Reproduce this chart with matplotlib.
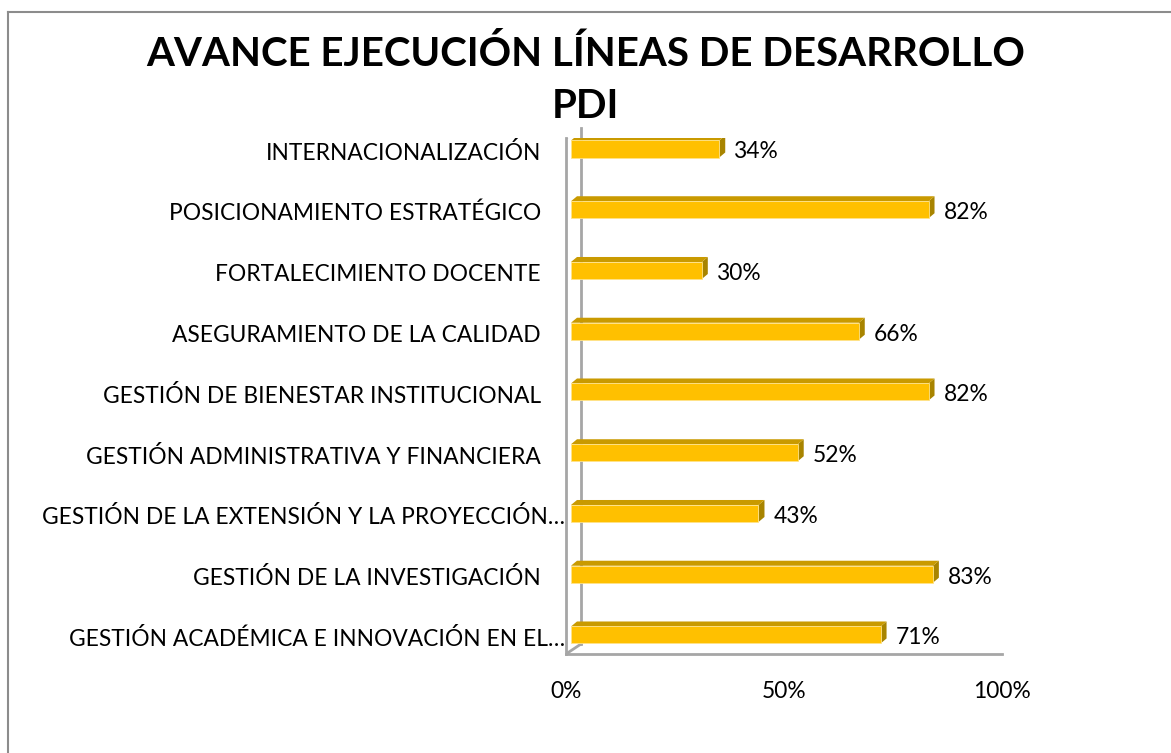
import matplotlib
matplotlib.use("Agg")
import matplotlib.pyplot as plt
from matplotlib.patches import Polygon
from matplotlib.lines import Line2D
from matplotlib.transforms import ScaledTranslation

# data (bottom to top, as drawn)
categories = [
    "GESTIÓN ACADÉMICA E INNOVACIÓN EN EL…",
    "GESTIÓN DE LA INVESTIGACIÓN",
    "GESTIÓN DE LA EXTENSIÓN Y LA PROYECCIÓN…",
    "GESTIÓN ADMINISTRATIVA Y FINANCIERA",
    "GESTIÓN DE BIENESTAR INSTITUCIONAL",
    "ASEGURAMIENTO DE LA CALIDAD",
    "FORTALECIMIENTO DOCENTE",
    "POSICIONAMIENTO ESTRATÉGICO",
    "INTERNACIONALIZACIÓN",
]
avance = [0.71, 0.83, 0.43, 0.52, 0.82, 0.66, 0.30, 0.82, 0.34]
x_ticks = [0, 0.5, 1.0]
x_tick_labels = ["0%", "50%", "100%"]

plt.rcParams['font.family'] = ['Lato', 'DejaVu Sans']

W, H, DPI = 1171, 753, 100
fig = plt.figure(figsize=(W / DPI, H / DPI), dpi=DPI)
fig.patch.set_facecolor("white")

# plot area (front plane of the 3D box)
ax = fig.add_axes([566 / W, 99 / H, 436 / W, 516 / H])
ax.set_xlim(0, 1)
ax.set_ylim(-0.313, 8.181)
ax.axis("off")

px = 1.0 / DPI  # one pixel in inches
def shift(dx, dy):
    return ScaledTranslation(dx * px, dy * px, fig.dpi_scale_trans)

# side wall and floor outline
wall_col = "#a6a6a6"
ax.plot([0, 0], [0, 1], transform=ax.transAxes, color=wall_col, lw=2, clip_on=False)
ax.plot([0, 0], [0, 1], transform=ax.transAxes + shift(15, 10), color=wall_col, lw=2, clip_on=False)
ax.plot([0, 1], [0, 0], transform=ax.transAxes, color=wall_col, lw=2, clip_on=False)
for yy in (0, 1):
    p0 = ax.transAxes.transform((0, yy))
    ax.add_line(Line2D([p0[0], p0[0] + 15], [p0[1], p0[1] + 10], transform=None,
                       color=wall_col, lw=2))

# 3D-look bars
bar_h = 0.28
front_off = shift(5, 0)
dx, dy = 6, 5
fs = 16.4
for i, v in enumerate(avance):
    y0, y1 = i - bar_h / 2, i + bar_h / 2
    a = (ax.transData + front_off).transform([(0, y0), (v, y0), (v, y1), (0, y1)])
    front = Polygon(a, closed=True, transform=None, facecolor="#ffc000",
                    edgecolor="#ffe38a", lw=0.6, zorder=3)
    top = Polygon([a[3], a[2], a[2] + (dx, dy), a[3] + (dx, dy)], closed=True,
                  transform=None, facecolor="#c99a00", edgecolor="none", zorder=3)
    side = Polygon([a[1], a[1] + (dx, dy), a[2] + (dx, dy), a[2]], closed=True,
                   transform=None, facecolor="#a88400", edgecolor="none", zorder=3)
    for p in (side, top, front):
        ax.add_patch(p)
    ax.text(v, i, "%d%%" % round(v * 100), transform=ax.transData + shift(20, -3),
            ha="left", va="center", fontsize=fs, color="black")

# category labels
for i, lab in enumerate(categories):
    pad = 1 if lab.endswith("…") else 25
    ax.text(0, i, lab, transform=ax.get_yaxis_transform() + shift(-pad, -4),
            ha="right", va="center", fontsize=fs, color="black")

# value axis labels
for t, lab in zip(x_ticks, x_tick_labels):
    ax.text(t, 0, lab, transform=ax.get_xaxis_transform() + shift(0, -37),
            ha="center", va="center", fontsize=fs, color="black")

fig.text(0.5, 1 - 54 / H, "AVANCE EJECUCIÓN LÍNEAS DE DESARROLLO", ha="center", va="center",
         fontsize=29, fontweight="bold")
fig.text(585 / W, 1 - 107 / H, "PDI", ha="center", va="center", fontsize=29, fontweight="bold")

# chart border (left and top only visible)
fig.add_artist(Line2D([7.5 / W, 7.5 / W], [0, 1 - 12 / H], transform=fig.transFigure,
                      color="#8c8c8c", lw=1.5))
fig.add_artist(Line2D([7.5 / W, 1], [1 - 12 / H, 1 - 12 / H], transform=fig.transFigure,
                      color="#8c8c8c", lw=1.5))

fig.savefig("out.png", dpi=DPI)
